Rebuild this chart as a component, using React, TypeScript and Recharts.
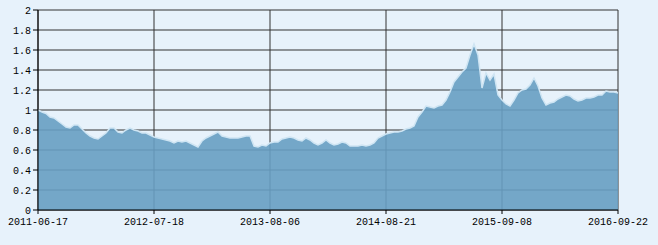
import React from 'react';
import { AreaChart, Area, XAxis, YAxis, CartesianGrid } from 'recharts';

// net value samples left to right
const navValues = [
  1.0, 0.98, 0.965, 0.93, 0.92, 0.89, 0.86, 0.83, 0.82, 0.85,
  0.85, 0.81, 0.77, 0.74, 0.72, 0.71, 0.74, 0.77, 0.82, 0.82,
  0.78, 0.77, 0.8, 0.82, 0.8, 0.79, 0.77, 0.77, 0.75, 0.73,
  0.72, 0.71, 0.7, 0.69, 0.67, 0.69, 0.68, 0.69, 0.67, 0.65,
  0.63, 0.69, 0.72, 0.74, 0.76, 0.78, 0.74, 0.73, 0.72, 0.72,
  0.72, 0.73, 0.74, 0.74, 0.64, 0.63, 0.65, 0.64, 0.67, 0.68,
  0.68, 0.71, 0.72, 0.73, 0.72, 0.7, 0.69, 0.72, 0.7, 0.67,
  0.65, 0.67, 0.7, 0.67, 0.65, 0.66, 0.68, 0.67, 0.64, 0.64,
  0.64, 0.65, 0.64, 0.65, 0.67, 0.72, 0.74, 0.76, 0.77, 0.78,
  0.78, 0.79, 0.81, 0.82, 0.84, 0.93, 0.98, 1.04, 1.03, 1.02,
  1.04, 1.05, 1.1, 1.18, 1.28, 1.33, 1.38, 1.42, 1.55, 1.66,
  1.55, 1.22, 1.37, 1.3, 1.36, 1.15, 1.1, 1.06, 1.04, 1.1,
  1.17, 1.2, 1.21, 1.25, 1.32, 1.24, 1.12, 1.05, 1.07, 1.08,
  1.11, 1.13, 1.15, 1.14, 1.11, 1.09, 1.1, 1.12, 1.12, 1.13,
  1.15, 1.15, 1.19, 1.18, 1.18, 1.17,
];

const dateLabels = ['2011-06-17', '2012-07-18', '2013-08-06', '2014-08-21', '2015-09-08', '2016-09-22'];
const xTicks = [0, 29, 58, 87, 116, 145];
const yTicks = [0, 0.2, 0.4, 0.6, 0.8, 1, 1.2, 1.4, 1.6, 1.8, 2];

const data = navValues.map((v, i) => ({ i, v }));

const tickStyle = { fill: '#000', fontSize: 10, fontFamily: '"Liberation Mono", "DejaVu Sans Mono", monospace' };

const App: React.FC = () => {
  return (
    <div style={{ position: 'absolute', left: 0, top: 0, width: 658, height: 245, background: '#e7f2fb' }}>
      <AreaChart width={658} height={245} data={data} margin={{ top: 10, right: 40, left: 0, bottom: 5 }}>
        <CartesianGrid stroke="#333" strokeWidth={1} verticalPoints={[38, 154, 270, 386, 502, 618]} />
        <XAxis
          dataKey="i"
          type="number"
          domain={[0, 145]}
          ticks={xTicks}
          interval={0}
          height={30}
          stroke="#000"
          tickSize={4}
          tickMargin={4}
          tick={tickStyle}
          tickFormatter={(v: number) => dateLabels[xTicks.indexOf(v)] ?? ''}
        />
        <YAxis
          type="number"
          domain={[0, 2]}
          ticks={yTicks}
          interval={0}
          width={38}
          stroke="#000"
          tickSize={5}
          tickMargin={2}
          tick={tickStyle}
          tickFormatter={(v: number) => String(v)}
        />
        <Area
          type="linear"
          dataKey="v"
          fill="#679fc2"
          fillOpacity={0.9}
          stroke="#cfe5f3"
          strokeWidth={1.5}
          isAnimationActive={false}
          dot={false}
          activeDot={false}
        />
      </AreaChart>
    </div>
  );
};

export default App;
